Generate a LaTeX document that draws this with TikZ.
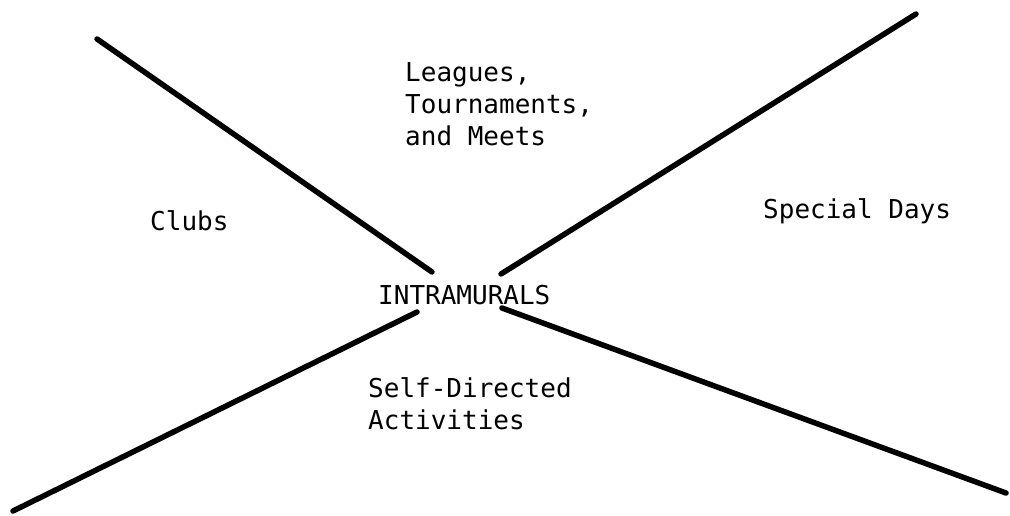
\documentclass[tikz,border=0pt]{standalone}
\usepackage{fontspec}
\setmonofont{DejaVu Sans Mono}
\begin{document}
\begin{tikzpicture}[x=1pt,y=-1pt,
  arm/.style={line width=5.5pt, line cap=round},
  lbl/.style={font=\ttfamily\fontsize{26}{32}\selectfont, anchor=north west,
              inner sep=0pt, align=left}]
\useasboundingbox (0,0) rectangle (1010,516);
% the four arms of the cross
\coordinate (tlOut) at (97,39);   \coordinate (tlIn) at (432,272);
\coordinate (trOut) at (916,14);  \coordinate (trIn) at (501,274);
\coordinate (blOut) at (13,511);  \coordinate (blIn) at (417,312);
\coordinate (brOut) at (1006,493);\coordinate (brIn) at (502,308);
\draw[arm] (tlOut) -- (tlIn);
\draw[arm] (trOut) -- (trIn);
\draw[arm] (blOut) -- (blIn);
\draw[arm] (brOut) -- (brIn);
% labels
\node[lbl] (leagues) at (405,62) {Leagues,\\Tournaments,\\and Meets};
\node[lbl] (clubs) at (150,210) {Clubs};
\node[lbl] (special) at (763,198) {Special Days};
\node[lbl] (center) at (378,285) {INTRAMURALS};
\node[lbl] (selfdir) at (368,377) {Self-Directed\\Activities};
\end{tikzpicture}
\end{document}
